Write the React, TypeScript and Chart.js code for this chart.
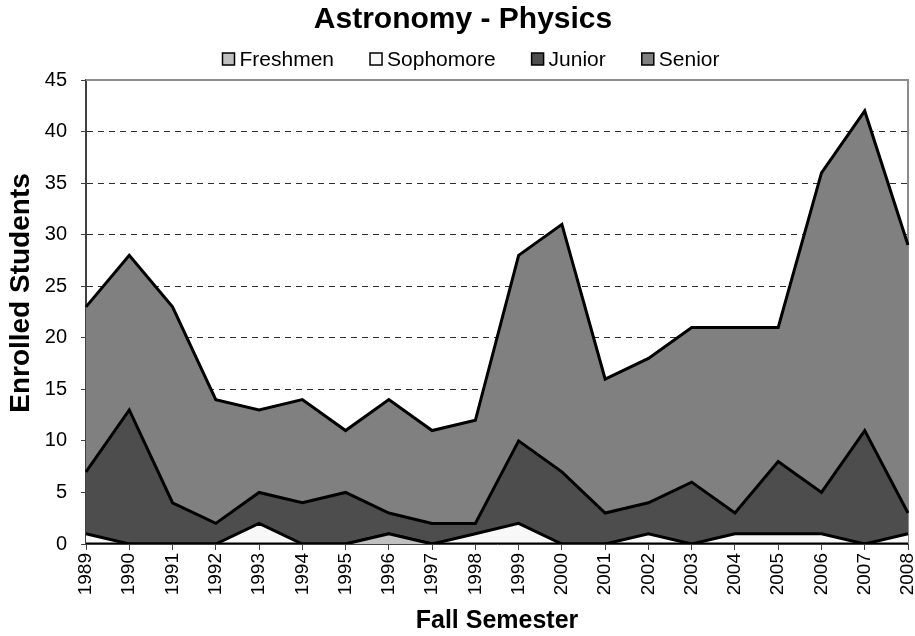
import React, { useEffect, useRef } from "react";
import { Chart, registerables } from "chart.js";

Chart.register(...registerables);

const FONT = "'Liberation Sans', Arial, Helvetica, sans-serif";

const years = ["1989", "1990", "1991", "1992", "1993", "1994", "1995", "1996", "1997", "1998",
  "1999", "2000", "2001", "2002", "2003", "2004", "2005", "2006", "2007", "2008"];
const freshmen = [0, 0, 0, 0, 0, 0, 0, 1, 0, 0, 0, 0, 0, 0, 0, 0, 0, 0, 0, 0];
const sophomore = [1, 0, 0, 0, 2, 0, 0, 0, 0, 1, 2, 0, 0, 1, 0, 1, 1, 1, 0, 1];
const junior = [6, 13, 4, 2, 3, 4, 5, 2, 2, 1, 8, 7, 3, 3, 6, 2, 7, 4, 11, 2];
const senior = [16, 15, 19, 12, 8, 10, 6, 11, 9, 10, 18, 24, 13, 14, 15, 18, 13, 31, 31, 26];

const seriesNames = ["Freshmen", "Sophomore", "Junior", "Senior"];
const seriesColors = ["#c0c0c0", "#f8f8f8", "#4d4d4d", "#808080"];
const yTitle = "Enrolled Students";
const yMin = 0;
const yMax = 45;
const yStep = 5;

const plotFrame = {
  id: "plotFrame",
  beforeDatasetsDraw(chart: any) {
    const { ctx, chartArea: a } = chart;
    ctx.save();
    ctx.strokeStyle = "#8c8c8c";
    ctx.lineWidth = 2;
    ctx.beginPath();
    ctx.moveTo(a.left, a.top);
    ctx.lineTo(a.right, a.top);
    ctx.lineTo(a.right, a.bottom);
    ctx.stroke();
    ctx.restore();
  },
};

const yAxisTitle = {
  id: "yAxisTitle",
  afterDraw(chart: any) {
    const { ctx } = chart;
    ctx.save();
    ctx.font = `bold 28px ${FONT}`;
    ctx.fillStyle = "#000";
    ctx.textAlign = "center";
    ctx.textBaseline = "middle";
    ctx.translate(21, 293);
    ctx.rotate(-Math.PI / 2);
    ctx.fillText(yTitle, 0, 0);
    ctx.restore();
  },
};

const customLegend = {
  id: "customLegend",
  afterDraw(chart: any) {
    const { ctx } = chart;
    const box = 12;
    const gapText = 5;
    const gapItem = 36;
    const y = 59;
    ctx.save();
    ctx.font = `21px ${FONT}`;
    const items = chart.data.datasets.map((d: any) => ({
      text: d.label,
      color: d.backgroundColor,
      w: box + gapText + ctx.measureText(d.label).width,
    }));
    const total = items.reduce((s: number, it: any) => s + it.w, 0) + gapItem * (items.length - 1);
    let x = 471 - total / 2;
    ctx.textBaseline = "middle";
    ctx.textAlign = "left";
    for (const it of items) {
      ctx.fillStyle = it.color;
      ctx.fillRect(x, y - box / 2, box, box);
      ctx.strokeStyle = "#000";
      ctx.lineWidth = 1.5;
      ctx.strokeRect(x, y - box / 2, box, box);
      ctx.fillStyle = "#000";
      ctx.fillText(it.text, x + box + gapText, y + 1);
      x += it.w + gapItem;
    }
    ctx.restore();
  },
};

export default function App() {
  const ref = useRef<HTMLCanvasElement | null>(null);

  useEffect(() => {
    document.body.style.margin = "0";
    if (!ref.current) return;
    const values = [freshmen, sophomore, junior, senior];
    const chart = new Chart(ref.current, {
      type: "line",
      data: {
        labels: years,
        datasets: values.map((v, i) => ({
          label: seriesNames[i],
          data: v,
          backgroundColor: seriesColors[i],
          borderColor: "#000",
          borderWidth: 3,
          fill: i === 0 ? "origin" : "-1",
          pointRadius: 0,
          tension: 0,
        })),
      },
      options: {
        animation: false,
        responsive: false,
        layout: { padding: { left: 18, right: 7, top: 0, bottom: 0 } },
        plugins: {
          legend: { display: false },
          tooltip: { enabled: false },
          title: {
            display: true,
            text: "Astronomy - Physics",
            color: "#000",
            font: { family: FONT, size: 30, weight: "bold" },
            padding: { top: 2, bottom: 42 },
          },
        },
        scales: {
          x: {
            type: "category",
            offset: false,
            grid: { display: true, drawOnChartArea: false, drawTicks: true, tickLength: 6, color: "#404040" },
            border: { color: "#404040", width: 1 },
            ticks: {
              autoSkip: false,
              minRotation: 90,
              maxRotation: 90,
              color: "#000",
              padding: 3,
              font: { family: FONT, size: 19 },
            },
            title: {
              display: true,
              text: "Fall Semester",
              color: "#000",
              font: { family: FONT, size: 25, weight: "bold" },
              padding: { top: 0, bottom: 0 },
            },
            afterFit: (s: any) => {
              s.height = 92;
              s.paddingLeft = 0;
              s.paddingRight = 0;
            },
          },
          y: {
            stacked: true,
            min: yMin,
            max: yMax,
            grid: {
              color: (c: any) => (c.tick && (c.tick.value === yMin || c.tick.value === yMax) ? "rgba(0,0,0,0)" : "#303030"),
              tickColor: "#404040",
              tickLength: 5,
              lineWidth: 1,
            },
            border: { color: "#404040", width: 2, dash: [6, 5] },
            ticks: {
              stepSize: yStep,
              color: "#000",
              padding: 14,
              font: { family: FONT, size: 20 },
            },
            title: { display: false },
            afterFit: (s: any) => {
              s.width = 68;
            },
          },
        },
      },
      plugins: [plotFrame, yAxisTitle, customLegend],
    });
    return () => chart.destroy();
  }, []);

  return (
    <div style={{ width: 915, height: 636 }}>
      <canvas ref={ref} width={915} height={636} />
    </div>
  );
}
